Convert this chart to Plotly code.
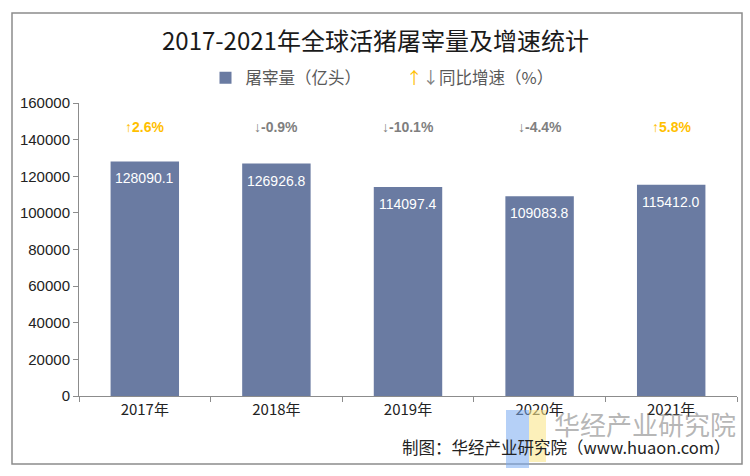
import plotly.graph_objects as go

years = ["2017年", "2018年", "2019年", "2020年", "2021年"]
slaughter = [128090.1, 126926.8, 114097.4, 109083.8, 115412.0]
growth = [2.6, -0.9, -10.1, -4.4, 5.8]
yticks = [0, 20000, 40000, 60000, 80000, 100000, 120000, 140000, 160000]

W, H = 750, 476
L, R, T, B = 79, 13, 103, 80
pw, ph = W - L - R, H - T - B

def px2paper_x(x):
    return (x - L) / pw

def px2paper_y(y):
    return (H - B - y) / ph

bar_color = "#6A7BA2"
up_color = "#FFC000"
down_color = "#7F7F7F"

fig = go.Figure()
fig.add_trace(go.Bar(
    x=years, y=slaughter, name="屠宰量（亿头）",
    marker=dict(color=bar_color, line=dict(width=0)),
    width=0.52,
    cliponaxis=False,
))
fig.add_trace(go.Scatter(
    x=[years[0]], y=[None], mode="markers",
    marker=dict(size=1, color="rgba(0,0,0,0)"),
    name=f"<span style='color:{up_color}'>↑</span><span style='color:{down_color}'>↓</span>同比增速（%）",
))

for yr, v in zip(years, slaughter):
    fig.add_annotation(
        x=yr, y=v, xref="x", yref="y", yshift=-7,
        text=f"{v:.1f}", showarrow=False, yanchor="top",
        font=dict(color="white", size=14, family="Liberation Sans"),
    )

for yr, g in zip(years, growth):
    col = up_color if g >= 0 else down_color
    arrow = "↑" if g >= 0 else "↓"
    fig.add_annotation(
        x=yr, y=147000, xref="x", yref="y",
        text=f"{arrow}<b>{g:.1f}%</b>",
        showarrow=False,
        font=dict(color=col, size=14, family="Liberation Sans"),
    )

# Title
fig.add_annotation(
    x=px2paper_x(375), y=px2paper_y(40), xref="paper", yref="paper",
    text="2017-2021年全球活猪屠宰量及增速统计", showarrow=False,
    font=dict(size=24, color="#1a1a1a", family="Noto Sans CJK SC"),
    xanchor="center", yanchor="middle",
)

# Watermark blocks
fig.add_shape(type="rect", xref="paper", yref="paper",
              x0=px2paper_x(506), x1=px2paper_x(529), y0=px2paper_y(468), y1=px2paper_y(410),
              fillcolor="rgba(120,170,240,0.55)", line=dict(width=0), layer="above")
fig.add_shape(type="rect", xref="paper", yref="paper",
              x0=px2paper_x(529), x1=px2paper_x(546), y0=px2paper_y(462), y1=px2paper_y(410),
              fillcolor="rgba(250,230,140,0.6)", line=dict(width=0), layer="above")
fig.add_annotation(
    x=px2paper_x(738), y=px2paper_y(423), xref="paper", yref="paper",
    text="华经产业研究院", showarrow=False,
    font=dict(size=26, color="rgba(120,120,120,0.55)", family="Noto Sans CJK SC"),
    xanchor="right", yanchor="middle",
)
fig.add_annotation(
    x=px2paper_x(733), y=px2paper_y(447), xref="paper", yref="paper",
    text="制图：华经产业研究院（www.huaon.com）", showarrow=False,
    font=dict(size=16.5, color="#222222", family="Noto Sans CJK SC"),
    xanchor="right", yanchor="middle",
)

# Outer border
fig.add_shape(type="rect", xref="paper", yref="paper",
              x0=px2paper_x(12), x1=px2paper_x(742), y0=px2paper_y(464), y1=px2paper_y(13),
              line=dict(color="#8c8c8c", width=1.5), fillcolor="rgba(0,0,0,0)", layer="below")

fig.update_layout(
    width=W, height=H,
    margin=dict(l=L, r=R, t=T, b=B, autoexpand=False),
    paper_bgcolor="white", plot_bgcolor="white",
    showlegend=True,
    legend=dict(orientation="h", x=px2paper_x(382), xanchor="center",
                y=px2paper_y(78), yanchor="middle",
                font=dict(size=16.5, color="#595959", family="Noto Sans CJK SC"),
                itemwidth=30, bgcolor="rgba(0,0,0,0)"),
    xaxis=dict(
        type="category", showline=True, linecolor="#8c8c8c", linewidth=1,
        ticks="outside", tickson="boundaries", ticklen=5, tickcolor="#8c8c8c",
        tickfont=dict(size=15, color="#222222", family="Noto Sans CJK SC"),
        showgrid=False,
    ),
    yaxis=dict(
        range=[0, 160000], tickvals=yticks, ticktext=[str(v) for v in yticks],
        showline=True, linecolor="#8c8c8c", linewidth=1,
        ticks="outside", ticklen=5, tickcolor="#8c8c8c",
        tickfont=dict(size=15, color="#222222", family="Liberation Sans"),
        showgrid=False, zeroline=False,
    ),
)

fig.write_html("out.html", config={"displayModeBar": False},
               post_script="document.body.style.margin='0';document.body.style.padding='0';")
